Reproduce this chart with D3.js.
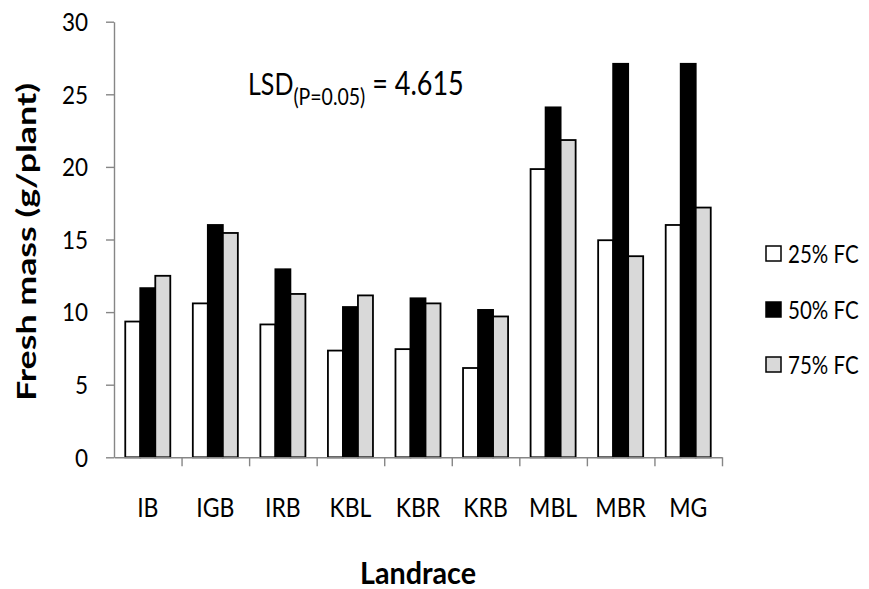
<!DOCTYPE html>
<html>
<head>
<meta charset="utf-8">
<script src="https://cdn.jsdelivr.net/npm/d3@7"></script>
<style>
  html, body { margin: 0; padding: 0; background: #fff; }
  svg { display: block; font-family: Lato, "Open Sans", sans-serif; }
</style>
</head>
<body>
<svg id="chart" width="869" height="589"></svg>
<script>
const categories = ["IB", "IGB", "IRB", "KBL", "KBR", "KRB", "MBL", "MBR", "MG"];
const seriesNames = ["25% FC", "50% FC", "75% FC"];
const fc25 = [9.35, 10.6, 9.15, 7.35, 7.45, 6.15, 19.85, 14.95, 16.0];
const fc50 = [11.65, 16.0, 12.95, 10.35, 10.95, 10.15, 24.1, 27.1, 27.1];
const fc75 = [12.5, 15.45, 11.25, 11.15, 10.6, 9.7, 21.85, 13.85, 17.2];
const seriesFill = ["#ffffff", "#000000", "#d9d9d9"];
const yTicks = [0, 5, 10, 15, 20, 25, 30];
const yTitle = "Fresh mass  (g/plant)";
const xTitle = "Landrace";

const seriesValues = [fc25, fc50, fc75];
const rows = categories.map((c, i) => ({
  cat: c,
  vals: seriesNames.map((s, j) => ({ s, v: seriesValues[j][i], fill: seriesFill[j] }))
}));

const svg = d3.select("#chart");
const L = 114, R = 722, T = 21.7, B = 457.3;
const axisColor = "#868686";

const x = d3.scaleBand().domain(categories).range([L, R]).paddingInner(0).paddingOuter(0);
const y = d3.scaleLinear().domain([0, 30]).range([B, T]);
const groupW = x.bandwidth() * 3 / 4.5;
const groupOff = (x.bandwidth() - groupW) / 2;
const xs = d3.scaleBand().domain(seriesNames).range([0, groupW]).padding(0);

// bars
const g = svg.append("g");
g.selectAll("g.cat").data(rows).join("g")
  .attr("class", "cat")
  .attr("transform", d => `translate(${x(d.cat) + groupOff},0)`)
  .selectAll("rect").data(d => d.vals).join("rect")
  .attr("x", d => xs(d.s))
  .attr("y", d => y(d.v))
  .attr("width", xs.bandwidth())
  .attr("height", d => B - y(d.v))
  .attr("fill", d => d.fill)
  .attr("stroke", "#000")
  .attr("stroke-width", 1.8);

// y axis
const yAxis = svg.append("g")
  .attr("transform", `translate(${L},0)`)
  .call(d3.axisLeft(y).tickValues(yTicks).tickSize(8).tickSizeOuter(0).tickPadding(18));
yAxis.select(".domain").attr("stroke", axisColor).attr("stroke-width", 1.4);
yAxis.selectAll(".tick line").attr("stroke", axisColor).attr("stroke-width", 1.4);
yAxis.selectAll(".tick text").attr("fill", "#000").attr("font-size", 22.5)
  .attr("font-family", "Lato, sans-serif")
  .attr("y", 0).attr("dy", "0.36em")
  .attr("transform", "scale(1,1.08)");

// x axis (boundary ticks)
const xb = d3.scaleLinear().domain([0, categories.length]).range([L, R]);
const xAxisTicks = svg.append("g")
  .attr("transform", `translate(0,${B})`)
  .call(d3.axisBottom(xb).tickValues(d3.range(1, categories.length + 1)).tickSize(9).tickSizeOuter(0).tickFormat(""));
xAxisTicks.select(".domain").attr("stroke", axisColor).attr("stroke-width", 1.4);
xAxisTicks.selectAll(".tick line").attr("stroke", axisColor).attr("stroke-width", 1.4);

// x labels
const xAxis = svg.append("g")
  .attr("transform", `translate(0,${B})`)
  .call(d3.axisBottom(x).tickSize(0));
xAxis.select(".domain").remove();
xAxis.selectAll(".tick text").attr("fill", "#000").attr("font-size", 23)
  .attr("font-family", "Lato, sans-serif")
  .attr("y", 59.5 / 1.2).attr("dy", "0")
  .attr("transform", "scale(1,1.2)");

// axis titles
svg.append("text")
  .attr("transform", `translate(36,242) rotate(-90) scale(1,1.05)`)
  .attr("text-anchor", "middle")
  .attr("font-size", 26).attr("font-weight", "bold")
  .attr("textLength", 318).attr("lengthAdjust", "spacingAndGlyphs")
  .text(yTitle);

svg.append("text")
  .attr("transform", `translate(418,584) scale(1,1.1)`)
  .attr("text-anchor", "middle")
  .attr("font-size", 27).attr("font-weight", "bold")
  .attr("textLength", 116).attr("lengthAdjust", "spacingAndGlyphs")
  .text(xTitle);

// LSD annotation
const lsd = svg.append("text")
  .attr("transform", "translate(248,95) scale(1,1.2)")
  .attr("font-size", 25);
lsd.append("tspan").text("LSD");
lsd.append("tspan").attr("font-size", 19.5).attr("dy", 8).text("(P=0.05)");
lsd.append("tspan").attr("font-size", 27).attr("dy", -8).text(" = 4.615");

// legend
const legendY = [254, 310, 365];
const leg = svg.append("g").selectAll("g").data(seriesNames).join("g")
  .attr("transform", (d, i) => `translate(766,${legendY[i]})`);
leg.append("rect").attr("x", 0).attr("y", -8).attr("width", 15).attr("height", 15)
  .attr("fill", (d, i) => seriesFill[i]).attr("stroke", "#000").attr("stroke-width", 1.5);
leg.append("text").attr("x", 22).attr("y", 0).attr("dy", "0.35em")
  .attr("transform", "scale(1,1.22)")
  .attr("font-size", 20.5).text(d => d);
</script>
</body>
</html>
